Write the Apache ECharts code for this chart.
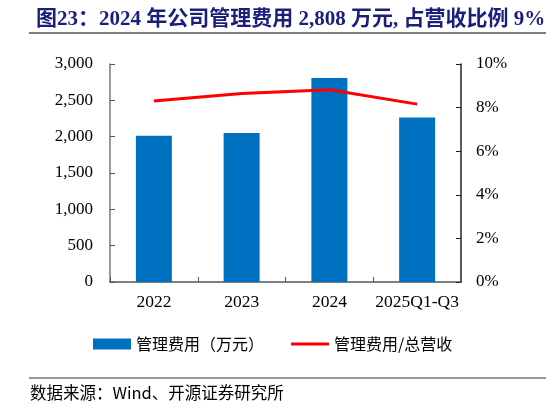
<!DOCTYPE html>
<html>
<head>
<meta charset="utf-8">
<script src="https://cdn.jsdelivr.net/npm/echarts@6/dist/echarts.min.js"></script>
<style>
  html, body { margin: 0; padding: 0; background: #fff; }
  #chart { width: 546px; height: 408px; }
</style>
</head>
<body>
<div id="chart"></div>
<script>
// 数据
var categories = ['2022', '2023', '2024', '2025Q1-Q3'];
var feeValues = [2012, 2049, 2808, 2265];        // 管理费用（万元）
var ratioValues = [8.30, 8.65, 8.82, 8.16];      // 管理费用/总营收 (%)
var leftTicks = [0, 500, 1000, 1500, 2000, 2500, 3000];

var serif = '"Liberation Serif", "Times New Roman", "Noto Sans CJK SC", serif';
var cjk = '"Noto Sans CJK SC", "Liberation Serif", sans-serif';

var chart = echarts.init(document.getElementById('chart'));

var option = {
    animation: false,
    backgroundColor: '#fff',
    title: {
        text: '图23：2024 年公司管理费用 2,808 万元, 占营收比例 9%',
        left: 31,
        top: 4,
        textStyle: {
            color: '#1b1f7c',
            fontSize: 21,
            fontWeight: 'bold',
            fontFamily: serif
        }
    },
    graphic: [
        {   // 标题下面的线
            type: 'line',
            shape: { x1: 29, y1: 33, x2: 546, y2: 33 },
            style: { stroke: '#555', lineWidth: 1.5 }
        },
        {   // 数据来源上面的线
            type: 'line',
            shape: { x1: 29, y1: 378, x2: 546, y2: 378 },
            style: { stroke: '#333', lineWidth: 1 }
        },
        {
            type: 'text',
            left: 30,
            top: 384,
            style: {
                text: '数据来源：Wind、开源证券研究所',
                fill: '#000',
                font: '16.5px ' + cjk
            }
        }
    ],
    legend: {
        top: 331,
        left: 88,
        itemGap: 27,
        itemWidth: 38,
        itemHeight: 11,
        textStyle: { fontSize: 16, fontFamily: cjk, color: '#000' },
        data: [
            { name: '管理费用（万元）', icon: 'rect' },
            { name: '管理费用/总营收', icon: 'path://M0,4 L38,4 L38,7 L0,7 Z' }
        ]
    },
    grid: {
        left: 110,
        right: 85,
        top: 64,
        bottom: 126
    },
    xAxis: {
        type: 'category',
        data: categories,
        axisLine: { lineStyle: { color: '#555', width: 1.5 } },
        axisTick: { show: true, inside: true, length: 5, alignWithLabel: false, lineStyle: { color: '#555' } },
        axisLabel: { color: '#000', fontSize: 17.5, fontFamily: serif, margin: 12, interval: 0 }
    },
    yAxis: [
        {
            type: 'value',
            min: 0,
            max: 3000,
            interval: 500,
            splitLine: { show: false },
            axisLine: { show: true, lineStyle: { color: '#777', width: 1.5 } },
            axisTick: { show: true, inside: true, length: 5, lineStyle: { color: '#555' } },
            axisLabel: {
                color: '#000',
                fontSize: 17,
                fontFamily: serif,
                margin: 17,
                formatter: function (v) {
                    return v.toLocaleString('en-US');
                }
            }
        },
        {
            type: 'value',
            min: 0,
            max: 10,
            interval: 2,
            splitLine: { show: false },
            axisLine: { show: true, lineStyle: { color: '#222', width: 1.5 } },
            axisTick: { show: true, inside: true, length: 5, lineStyle: { color: '#222' } },
            axisLabel: {
                color: '#000',
                fontSize: 17,
                fontFamily: serif,
                margin: 15,
                formatter: '{value}%'
            }
        }
    ],
    series: [
        {
            name: '管理费用（万元）',
            type: 'bar',
            yAxisIndex: 0,
            barWidth: 36,
            itemStyle: { color: '#0070c0' },
            data: feeValues
        },
        {
            name: '管理费用/总营收',
            type: 'line',
            yAxisIndex: 1,
            symbol: 'none',
            lineStyle: { color: '#ff0000', width: 3 },
            itemStyle: { color: '#ff0000' },
            data: ratioValues
        }
    ]
};

chart.setOption(option);
</script>
</body>
</html>
